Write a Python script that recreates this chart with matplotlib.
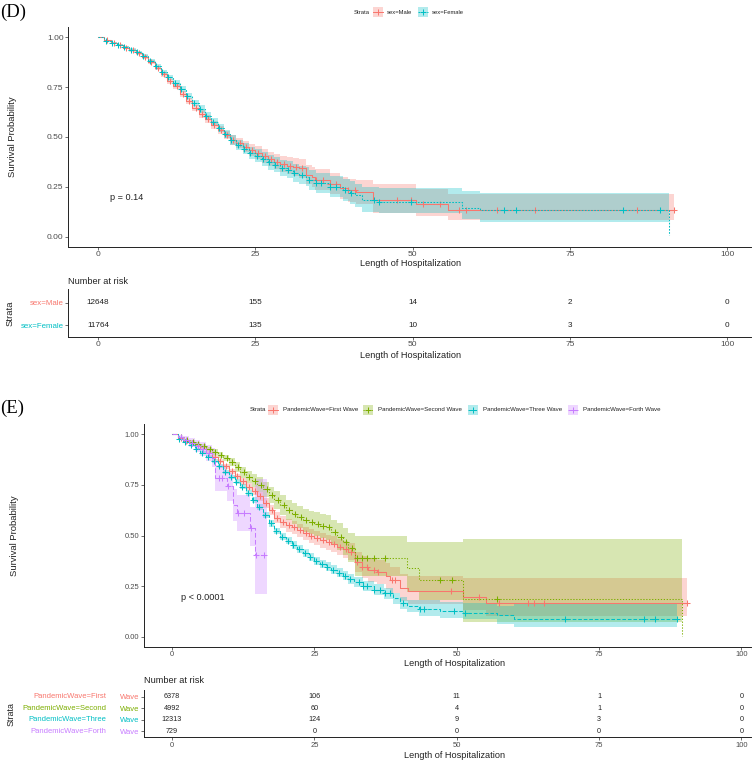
import numpy as np
import matplotlib
matplotlib.use('Agg')
import matplotlib.pyplot as plt
from matplotlib.patches import Rectangle

W, H = 752, 762
plt.rcParams['font.family'] = ['Liberation Sans', 'DejaVu Sans']

# ---------------- Panel D data (sex) ----------------
male_t = [0, 1, 2, 3, 4, 5, 6, 7, 8, 9, 10, 11, 12, 13, 14, 15, 16, 17, 18, 19, 20, 21, 22, 23, 24, 25, 26, 27, 28, 29, 30, 31, 32,
          33, 34, 34.5, 36.8, 38.5, 39.7, 41, 43.7, 50.6, 55.7, 91.5]
male_s = [1.0, 0.985, 0.972, 0.962, 0.948, 0.935, 0.92, 0.90, 0.875, 0.845, 0.815, 0.78, 0.755, 0.715, 0.68, 0.645, 0.615, 0.59,
          0.56, 0.535, 0.51, 0.485, 0.468, 0.45, 0.435, 0.42, 0.405, 0.39, 0.375, 0.362, 0.355, 0.348, 0.342,
          0.31, 0.298, 0.286, 0.265, 0.245, 0.232, 0.223, 0.184, 0.161, 0.132, 0.132]
male_lo = [1.0, .982, .968, .957, .942, .928, .912, .891, .865, .834, .803, .767, .741, .70, .664, .628, .597, .571, .54, .514,
           .488, .461, .442, .422, .405, .388, .371, .354, .337, .322, .313, .304, .296,
           .262, .248, .234, .211, .189, .174, .163, .12, .105, .082, .082]
male_hi = [1.0, .988, .976, .967, .954, .942, .928, .909, .885, .856, .827, .793, .769, .73, .696, .662, .633, .609, .58, .556,
           .532, .509, .494, .478, .465, .452, .439, .426, .413, .402, .397, .392, .388,
           .358, .348, .338, .319, .301, .29, .283, .265, .24, .215, .215]
male_cens = [1.5, 2.5, 3.5, 4.5, 5.5, 6.5, 7.5, 8.5, 9.5, 10.5, 11.5, 12.5, 13.5, 14.5, 15.5, 16.5, 17.5, 18.5, 19.5, 20.5,
             21.5, 22.5, 23.5, 24.5, 25.5, 26.5, 27.5, 28.5, 29.5, 30.5, 31.5, 32.5, 34.7, 35.7, 36.9, 37.9, 39.8, 40.8,
             47.6, 49.7, 51.6, 54.4, 57.4, 58.5, 63.5, 69.5, 85.6, 91.5]

female_t = [0, 1, 2, 3, 4, 5, 6, 7, 8, 9, 10, 11, 12, 13, 14, 15, 16, 17, 18, 19, 20, 21, 22, 23, 24, 25, 26, 27, 28, 29, 30, 31, 32,
            33, 33.6, 34.7, 36.8, 39, 40, 40.8, 42, 44.7, 57.8, 60.8, 90.7, 90.7]
female_s = [1.0, 0.982, 0.97, 0.96, 0.95, 0.938, 0.925, 0.905, 0.88, 0.855, 0.825, 0.80, 0.77, 0.74, 0.705, 0.67, 0.64, 0.605,
            0.575, 0.545, 0.515, 0.485, 0.46, 0.44, 0.42, 0.405, 0.39, 0.372, 0.36, 0.345, 0.335, 0.32, 0.31,
            0.30, 0.286, 0.268, 0.251, 0.232, 0.22, 0.206, 0.184, 0.172, 0.144, 0.132, 0.132, 0.01]
female_lo = [1.0, .979, .966, .955, .944, .931, .917, .896, .87, .844, .813, .787, .756, .725, .689, .653, .622, .586, .555, .524,
             .493, .461, .434, .412, .39, .373, .356, .336, .322, .305, .293, .276, .264,
             .252, .236, .216, .197, .176, .162, .146, .124, .117, .09, .075, .075, .075]
female_hi = [1.0, .985, .974, .965, .956, .945, .933, .914, .89, .866, .837, .813, .784, .755, .721, .687, .658, .624, .595, .566,
             .537, .509, .486, .468, .45, .437, .424, .408, .398, .385, .377, .364, .356,
             .348, .336, .32, .305, .288, .278, .266, .25, .245, .23, .22, .22, .22]
female_cens = [1.2, 2.2, 3.2, 4.2, 5.2, 6.2, 7.2, 8.2, 9.2, 10.2, 11.2, 12.2, 13.2, 14.2, 15.2, 16.2, 17.2, 18.2, 19.2, 20.2,
               21.2, 22.2, 23.2, 24.2, 25.2, 26.2, 27.2, 28.2, 29.2, 30.2, 31.2, 32.5, 33.6, 34.7, 35.5, 36.9, 37.9, 39.2,
               40.2, 43.9, 44.7, 49.7, 64.5, 66.5, 83.5, 89.3]

sex_labels = ['sex=Male', 'sex=Female']
risk_times = [0, 25, 50, 75, 100]
risk_male = [12648, 155, 14, 2, 0]
risk_female = [11764, 135, 10, 3, 0]

# ---------------- Panel E data (pandemic wave) ----------------
first_t = [0, 1, 2, 3, 4, 5, 6, 7, 8, 9, 10, 11, 12, 13, 14, 15, 16, 17, 18, 19, 20, 21, 22, 23, 24, 25, 26, 27, 28, 29, 30, 31,
           32.2, 33.3, 34.5, 36, 37.5, 38.3, 40.1, 41.4, 51.2, 55.1, 90.5]
first_s = [1.0, 0.98, 0.966, 0.955, 0.942, 0.928, 0.91, 0.89, 0.867, 0.842, 0.818, 0.792, 0.768, 0.742, 0.718, 0.694, 0.66,
           0.625, 0.588, 0.565, 0.55, 0.54, 0.525, 0.51, 0.498, 0.488, 0.476, 0.466, 0.458, 0.445, 0.432, 0.42,
           0.37, 0.345, 0.33, 0.32, 0.30, 0.279, 0.242, 0.225, 0.196, 0.168, 0.168]
first_lo = [1.0, .977, .962, .950, .936, .921, .902, .881, .857, .831, .806, .778, .752, .724, .698, .672, .636, .599, .560, .535,
            .519, .508, .492, .476, .463, .452, .439, .428, .419, .405, .391, .377,
            .32, .29, .272, .26, .238, .215, .176, .16, .13, .10, .10]
first_hi = [1.0, .983, .970, .960, .948, .935, .918, .899, .877, .853, .830, .806, .784, .760, .738, .716, .684, .651, .616, .595,
            .581, .572, .558, .544, .533, .524, .513, .504, .497, .485, .473, .463,
            .42, .40, .388, .38, .362, .343, .308, .30, .29, .29, .29]
first_cens = [1.5, 2.5, 3.5, 4.5, 5.5, 6.5, 7.5, 8.5, 9.5, 10.5, 11.5, 12.5, 13.5, 14.5, 15.5, 16.5, 17.5, 18.5, 19.5, 20.5,
              21.5, 22.5, 23.5, 24.5, 25.5, 26.5, 27.5, 28.5, 29.5, 30.5, 31.5, 32.5, 33.3, 34.2, 35.4, 36.2, 38.6, 39.2,
              49.0, 54.0, 57.5, 62.5, 63.5, 65.4, 90.5]

second_t = [0, 1, 2, 3, 4, 5, 6, 7, 8, 9, 10, 11, 12, 13, 14, 15, 16, 17, 18, 19, 20, 21, 22, 23, 24, 25, 26, 27, 28, 29, 30, 31,
            32.2, 41.2, 43.3, 51.2, 89.6, 89.6]
second_s = [1.0, 0.985, 0.973, 0.963, 0.952, 0.94, 0.927, 0.912, 0.897, 0.883, 0.862, 0.838, 0.812, 0.79, 0.77, 0.752, 0.728,
            0.70, 0.676, 0.65, 0.625, 0.607, 0.59, 0.575, 0.565, 0.555, 0.548, 0.54, 0.515, 0.495, 0.47, 0.44,
            0.39, 0.337, 0.279, 0.184, 0.184, 0.005]
second_lo = [1.0, .981, .967, .956, .944, .930, .916, .899, .882, .866, .842, .815, .786, .761, .738, .717, .690, .659, .631, .602,
             .575, .555, .536, .519, .507, .496, .488, .479, .452, .430, .402, .370,
             .30, .22, .18, .071, .071, .071]
second_hi = [1.0, .989, .979, .970, .960, .950, .938, .925, .912, .900, .882, .861, .838, .819, .802, .787, .766, .741, .721, .698,
             .675, .659, .644, .631, .623, .614, .608, .601, .578, .560, .538, .510,
             .497, .47, .469, .483, .483, .483]
second_cens = [1.6, 2.6, 3.6, 4.6, 5.6, 6.6, 7.6, 8.6, 9.6, 10.6, 11.6, 12.6, 13.6, 14.6, 15.6, 16.6, 17.6, 18.6, 19.6, 20.6,
               21.6, 22.6, 23.6, 24.6, 25.6, 26.6, 27.6, 28.6, 29.6, 30.6, 31.6, 32.5, 33.3, 34.2, 35.4, 37.4, 47.1, 49.1, 57.1]

three_t = [0, 1, 2, 3, 4, 5, 6, 7, 8, 9, 10, 11, 12, 13, 14, 15, 16, 17, 18, 19, 20, 21, 22, 23, 24, 25, 26, 27, 28, 29, 30, 31, 32,
           33.5, 35.4, 37.2, 38.9, 40.1, 41.2, 43.3, 47.1, 51.2, 57.1, 60, 88.7]
three_s = [1.0, 0.975, 0.96, 0.945, 0.928, 0.91, 0.89, 0.868, 0.842, 0.815, 0.79, 0.765, 0.742, 0.71, 0.675, 0.64, 0.60, 0.56,
           0.522, 0.495, 0.475, 0.453, 0.432, 0.412, 0.393, 0.375, 0.36, 0.346, 0.33, 0.315, 0.302, 0.285, 0.27,
           0.25, 0.232, 0.214, 0.19, 0.165, 0.15, 0.138, 0.126, 0.118, 0.105, 0.086, 0.086]
three_lo = [1.0, .972, .956, .940, .922, .904, .883, .860, .833, .805, .779, .753, .730, .697, .661, .625, .585, .544, .505, .478,
            .457, .435, .413, .393, .373, .355, .339, .325, .308, .293, .279, .262, .246,
            .225, .206, .187, .162, .136, .12, .10, .092, .085, .065, .046, .046]
three_hi = [1.0, .978, .964, .950, .934, .916, .897, .876, .851, .825, .801, .777, .754, .723, .689, .655, .615, .576, .539, .512,
            .493, .471, .451, .431, .413, .395, .381, .367, .352, .337, .325, .308, .294,
            .275, .258, .241, .218, .194, .18, .18, .17, .165, .15, .163, .163]
three_cens = [1.3, 2.3, 3.3, 4.3, 5.3, 6.3, 7.3, 8.3, 9.3, 10.3, 11.3, 12.3, 13.3, 14.3, 15.3, 16.3, 17.3, 18.3, 19.3, 20.3,
              21.3, 22.3, 23.3, 24.3, 25.3, 26.3, 27.3, 28.3, 29.3, 30.3, 31.3, 32.8, 33.6, 34.2, 35.4, 36.6, 37.4, 38.3,
              40.5, 43.5, 44.2, 49.5, 51.5, 69.1, 82.9, 84.9, 88.7]

forth_t = [0, 1, 2, 3, 4, 5, 6, 7, 7.6, 9.6, 10.8, 11.4, 13.7, 14.6, 16.6]
forth_s = [1.0, 0.985, 0.972, 0.958, 0.944, 0.928, 0.908, 0.885, 0.785, 0.743, 0.652, 0.61, 0.536, 0.403, 0.403]
forth_lo = [1.0, 0.975, 0.955, 0.935, 0.915, 0.895, 0.87, 0.84, 0.72, 0.67, 0.57, 0.52, 0.45, 0.21, 0.21]
forth_hi = [1.0, 0.995, 0.99, 0.98, 0.97, 0.96, 0.945, 0.93, 0.85, 0.81, 0.73, 0.70, 0.64, 0.78, 0.78]
forth_cens = [1.5, 2.5, 3.5, 4.5, 5.5, 6.5, 8.2, 8.8, 9.9, 11.6, 12.6, 13.9, 14.8, 16.2]

wave_labels = ['PandemicWave=First', 'PandemicWave=Second', 'PandemicWave=Three', 'PandemicWave=Forth']
risk_first = [6378, 106, 11, 1, 0]
risk_second = [4992, 60, 4, 1, 0]
risk_three = [12313, 124, 9, 3, 0]
risk_forth = [729, 0, 0, 0, 0]

x_ticks = [0, 25, 50, 75, 100]
y_ticks = [0.0, 0.25, 0.5, 0.75, 1.0]
y_ticklabels = ['0.00', '0.25', '0.50', '0.75', '1.00']

# ---------------- styles ----------------
COL2 = ['#F8766D', '#00BFC4']
COL4 = ['#F8766D', '#7CAE00', '#00BFC4', '#C77CFF']
LS2 = ['-', (0, (1.6, 1.4))]
LS4 = ['-', (0, (1.2, 1.6)), (0, (3.5, 1.8)), (0, (4.5, 2.2))]
XLIM_D = (-4.77, 103.8)
XLIM_E = (-4.92, 101.7)
TXT = '#222222'
TICKC = '#4d4d4d'

fig = plt.figure(figsize=(W / 100, H / 100), dpi=100)


def px_axes(l, t, r, b):
    return fig.add_axes([l / W, 1 - b / H, (r - l) / W, (b - t) / H])


def px_text(x, y, s, **kw):
    kw.setdefault('color', TXT)
    fig.text(x / W, 1 - y / H, s, **kw)


def style(ax, xlim, ylim, labelsize):
    ax.set_xlim(*xlim)
    ax.set_ylim(*ylim)
    ax.set_facecolor('none')
    for sp in ['top', 'right']:
        ax.spines[sp].set_visible(False)
    for sp in ['left', 'bottom']:
        ax.spines[sp].set_linewidth(0.7)
        ax.spines[sp].set_color('#222222')
    ax.tick_params(axis='both', length=2.0, width=0.5, color='#333333',
                   labelsize=labelsize, labelcolor=TICKC, pad=1.2)
    ax.set_xticks(x_ticks)
    ax.set_xticklabels([str(v) for v in x_ticks])


def draw_km(ax, t, s, lo, hi, cens, color, ls):
    ax.fill_between(t, lo, hi, step='post', color=color, alpha=0.3, lw=0)
    ax.step(t, s, where='post', color=color, lw=0.75, ls=ls)
    t_arr = np.asarray(t, float)
    s_arr = np.asarray(s, float)
    idx = np.searchsorted(t_arr, cens, side='right') - 1
    ax.plot(cens, s_arr[idx], ls='none', marker='+', ms=4.8, mew=0.75, color=color)


# ================= Panel D =================
axD = px_axes(68, 27.3, 751, 246.5)
style(axD, XLIM_D, (-0.05, 1.05), 6.0)
axD.set_yticks(y_ticks)
axD.set_yticklabels(y_ticklabels)
draw_km(axD, male_t, male_s, male_lo, male_hi, male_cens, COL2[0], LS2[0])
draw_km(axD, female_t, female_s, female_lo, female_hi, female_cens, COL2[1], LS2[1])

px_text(0, 12.5, '(D)', family=['Liberation Serif', 'DejaVu Serif'], fontsize=13.5, ha='left', va='center', color='black')
px_text(12.5, 137, 'Survival Probability', rotation=90, fontsize=6.8, ha='center', va='center')
px_text(411, 263.5, 'Length of Hospitalization', fontsize=6.6, ha='center', va='center')
px_text(126.5, 197, 'p = 0.14', fontsize=6.6, ha='center', va='center')

tabD = px_axes(68, 289.3, 751, 336.7)
style(tabD, XLIM_D, (0.47, 2.62), 6.0)
tabD.set_yticks([2, 1])
tabD.set_yticklabels(sex_labels, fontsize=5.7)
for lab, c in zip(tabD.get_yticklabels(), COL2):
    lab.set_color(c)
for row, vals in zip([2, 1], [risk_male, risk_female]):
    for tt, v in zip(risk_times, vals):
        tabD.text(tt, row, str(v), ha='center', va='center', fontsize=5.9, color=TXT)
px_text(68, 281, 'Number at risk', fontsize=6.6, ha='left', va='center')
px_text(411, 355.5, 'Length of Hospitalization', fontsize=6.6, ha='center', va='center')
px_text(10, 313, 'Strata', rotation=90, fontsize=6.8, ha='center', va='center')

# ================= Panel E =================
axE = px_axes(144, 424.2, 751, 646.8)
style(axE, XLIM_E, (-0.05, 1.05), 5.5)
axE.set_yticks(y_ticks)
axE.set_yticklabels(y_ticklabels)
e_data = [
    (first_t, first_s, first_lo, first_hi, first_cens),
    (second_t, second_s, second_lo, second_hi, second_cens),
    (three_t, three_s, three_lo, three_hi, three_cens),
    (forth_t, forth_s, forth_lo, forth_hi, forth_cens),
]
for (t, s, lo, hi, cz), c, ls in zip(e_data, COL4, LS4):
    draw_km(axE, t, s, lo, hi, cz, c, ls)

px_text(0, 408.5, '(E)', family=['Liberation Serif', 'DejaVu Serif'], fontsize=13.5, ha='left', va='center', color='black')
px_text(15, 535.5, 'Survival Probability', rotation=90, fontsize=6.8, ha='center', va='center')
px_text(455, 664, 'Length of Hospitalization', fontsize=6.6, ha='center', va='center')
px_text(203, 597, 'p < 0.0001', fontsize=6.6, ha='center', va='center')

tabE = px_axes(144, 690, 751, 737.3)
style(tabE, XLIM_E, (0.48, 4.58), 5.5)
rowsE = [4, 3, 2, 1]
tabE.set_yticks(rowsE)
tabE.set_yticklabels(['Wave'] * 4, fontsize=5.5)
for lab, c in zip(tabE.get_yticklabels(), COL4):
    lab.set_color(c)
xfrac = (106.5 - 144) / (751 - 144)
for row, lab, c in zip(rowsE, wave_labels, COL4):
    tabE.text(xfrac, row, lab, transform=tabE.get_yaxis_transform(), ha='right', va='center',
              fontsize=5.5, color=c)
for row, vals in zip(rowsE, [risk_first, risk_second, risk_three, risk_forth]):
    for tt, v in zip(risk_times, vals):
        tabE.text(tt, row, str(v), ha='center', va='center', fontsize=5.2, color=TXT)
px_text(144, 680.7, 'Number at risk', fontsize=6.6, ha='left', va='center')
px_text(455, 755, 'Length of Hospitalization', fontsize=6.6, ha='center', va='center')
px_text(11, 714, 'Strata', rotation=90, fontsize=6.4, ha='center', va='center')

# ================= Legends (pixel overlay) =================
ov = fig.add_axes([0, 0, 1, 1])
ov.set_xlim(0, W)
ov.set_ylim(H, 0)
ov.axis('off')


def legend_row(yc, strata_x, items, fs, key=10):
    ov.text(strata_x, yc, 'Strata', fontsize=fs, ha='left', va='center', color=TXT)
    for kx, tx, lab, c, ls in items:
        ov.add_patch(Rectangle((kx, yc - key / 2), key, key, facecolor=c, alpha=0.3, lw=0))
        ov.plot([kx, kx + key], [yc, yc], color=c, lw=0.7, ls=ls)
        ov.plot([kx + key / 2], [yc], marker='+', ms=4.5, mew=0.7, color=c, ls='none')
        ov.text(tx, yc, lab, fontsize=fs, ha='left', va='center', color=TXT)


legend_row(12, 354, [(373, 387, sex_labels[0], COL2[0], LS2[0]),
                     (418, 432, sex_labels[1], COL2[1], LS2[1])], 4.2)
legend_row(409.7, 250, [(268, 283, wave_labels[0] + ' Wave', COL4[0], LS4[0]),
                        (363, 378, wave_labels[1] + ' Wave', COL4[1], LS4[1]),
                        (468, 483, wave_labels[2] + ' Wave', COL4[2], LS4[2]),
                        (568, 583, wave_labels[3] + ' Wave', COL4[3], LS4[3])], 4.4)

fig.savefig('out.png', dpi=100)
